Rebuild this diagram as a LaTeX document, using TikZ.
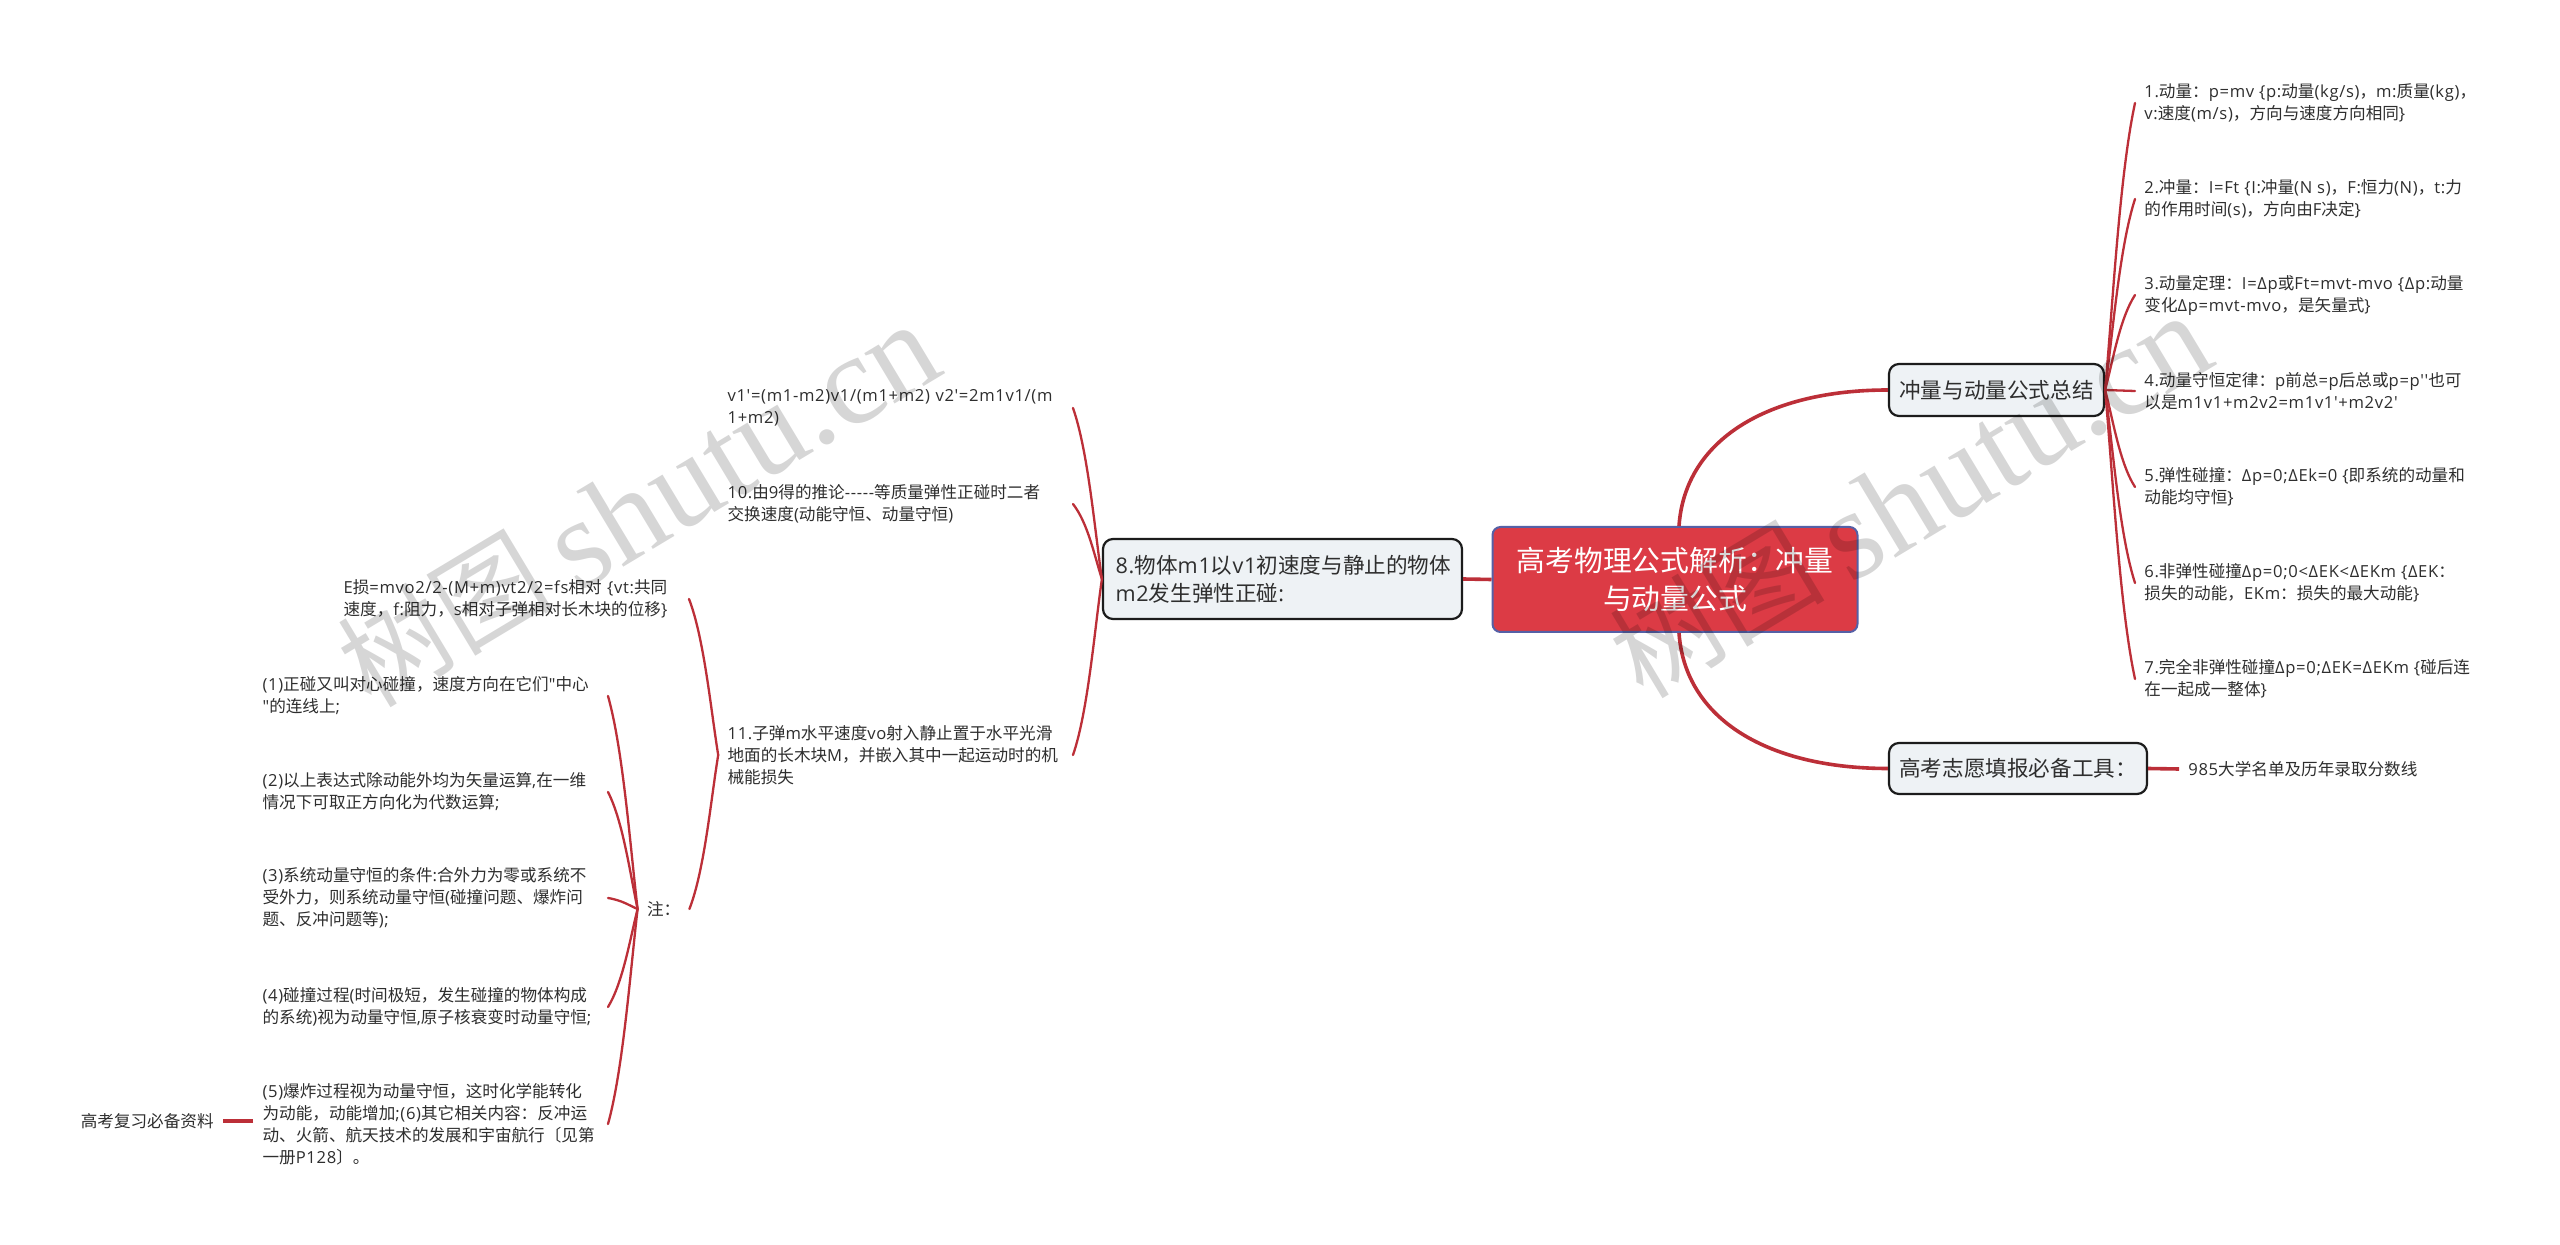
\documentclass[tikz,border=0pt]{standalone}
\usepackage{fontspec}
\newfontfamily\cjkfam{Noto Sans CJK SC}
\newfontfamily\latinfam[LetterSpace=4]{Open Sans}
\newfontfamily\wmlatin{Liberation Serif}
% switch to the CJK family on CJK characters, back to the Latin family elsewhere
\XeTeXinterchartokenstate=1
\newXeTeXintercharclass\cjkcls
\newcount\cjkidx
\newcommand{\markrange}[2]{\cjkidx=#1 \loop\XeTeXcharclass\cjkidx=\cjkcls\ifnum\cjkidx<#2 \advance\cjkidx by 1 \repeat}
\markrange{"3000}{"303F}
\markrange{"4E00}{"9FFF}
\markrange{"FF00}{"FFEF}
\XeTeXinterchartoks 0 \cjkcls = {\cjkfam}
\XeTeXinterchartoks 4095 \cjkcls = {\cjkfam}
\XeTeXinterchartoks \cjkcls 0 = {\latinfam}
\XeTeXinterchartoks \cjkcls 4095 = {\latinfam}
\definecolor{linkred}{HTML}{BC2F38}
\definecolor{rootred}{HTML}{DC3B45}
\definecolor{rootedge}{HTML}{5560A6}
\definecolor{boxfill}{HTML}{EEF2F5}
\definecolor{boxedge}{HTML}{1C1C1C}
\definecolor{txt}{HTML}{2E2E2E}
\tikzset{
  link/.style={draw=linkred,line width=1.15pt,line cap=round},
  biglink/.style={draw=linkred,line width=1.8pt},
  rootbox/.style={draw=rootedge,fill=rootred,line width=1pt,rounded corners=4pt,text=white,align=center,
    font=\latinfam\fontsize{14.4}{19}\selectfont,minimum width=182.5pt,minimum height=52.5pt,inner sep=0pt},
  topicbox/.style={draw=boxedge,fill=boxfill,line width=1.1pt,rounded corners=5pt,text=txt,
    font=\latinfam\fontsize{10.8}{14}\selectfont,inner sep=0pt,align=center},
  leaf/.style={text=txt,font=\latinfam\fontsize{8.3}{11}\selectfont,inner xsep=4.5pt,inner ysep=0pt,align=left},
  leafwide/.style={leaf,text width=168pt},
  watermark/.style={text=black,opacity=.16,font=\latinfam\fontsize{64}{64}\selectfont,rotate=31,anchor=base east,inner sep=0pt},
}
\newcommand{\fanlink}[4]{\draw[link] (#1) .. controls +({.25*#3},{.3*#4}) and +({-.5*#3},{-.25*#4}) .. (#2);}
\begin{document}
\begin{tikzpicture}[x=.5pt,y=-.5pt]
\useasboundingbox (0,0) rectangle (2560,1245);
\fill[white] (0,0) rectangle (2560,1245);

% nodes
\node[rootbox] (root) at (1675,579.5) {高考物理公式解析：冲量\\与动量公式};
\node[topicbox,minimum width=107.5pt,minimum height=26pt] (sum) at (1996.5,390) {冲量与动量公式总结};
\node[topicbox,minimum width=129pt,minimum height=25.5pt] (exam) at (2018,768.5) {高考志愿填报必备工具：};
\node[topicbox,minimum width=179.5pt,minimum height=40pt,text width=167pt,align=left,font=\latinfam\fontsize{10.8}{14}\selectfont] (eight) at (1282.5,579) {8.物体m1以v1初速度与静止的物体\\m2发生弹性正碰:};

\node[leaf,anchor=west] (c1) at (2135,103) {1.动量：p=mv \{p:动量(kg/s)，m:质量(kg)，\\v:速度(m/s)，方向与速度方向相同\}};
\node[leaf,anchor=west] (c2) at (2135,199) {2.冲量：I=Ft \{I:冲量(N s)，F:恒力(N)，t:力\\的作用时间(s)，方向由F决定\}};
\node[leaf,anchor=west] (c3) at (2135,295) {3.动量定理：I=Δp或Ft=mvt-mvo \{Δp:动量\\变化Δp=mvt-mvo，是矢量式\}};
\node[leaf,anchor=west] (c4) at (2135,391) {4.动量守恒定律：p前总=p后总或p=p''也可\\以是m1v1+m2v2=m1v1'+m2v2'};
\node[leaf,anchor=west] (c5) at (2135,487) {5.弹性碰撞：Δp=0;ΔEk=0 \{即系统的动量和\\动能均守恒\}};
\node[leaf,anchor=west] (c6) at (2135,583) {6.非弹性碰撞Δp=0;0<ΔEK<ΔEKm \{ΔEK：\\损失的动能，EKm：损失的最大动能\}};
\node[leaf,anchor=west] (c7) at (2135,679) {7.完全非弹性碰撞Δp=0;ΔEK=ΔEKm \{碰后连\\在一起成一整体\}};
\node[leaf,anchor=west] (univ) at (2179,769) {985大学名单及历年录取分数线};

\node[leafwide,anchor=east] (v) at (1073,408) {\mbox{v1'=(m1-m2)v1/(m1+m2) v2'=2m1v1/(m}\\1+m2)};
\node[leafwide,anchor=east] (ten) at (1073,504) {10.由9得的推论-----等质量弹性正碰时二者\\交换速度(动能守恒、动量守恒)};
\node[leafwide,anchor=east] (eleven) at (1073,755) {11.子弹m水平速度vo射入静止置于水平光滑\\地面的长木块M，并嵌入其中一起运动时的机\\械能损失};

\node[leafwide,anchor=east] (eloss) at (689,599) {\mbox{E损=mvo2/2-(M+m)vt2/2=fs相对 \{vt:共同}\\速度，f:阻力，s相对子弹相对长木块的位移\}};
\node[leaf,text width=16.5pt,anchor=center] (note) at (663.5,909) {注：};

\node[leafwide,anchor=east] (n1) at (608,696) {(1)正碰又叫对心碰撞，速度方向在它们"中心\\"的连线上;};
\node[leafwide,anchor=east] (n2) at (608,792) {(2)以上表达式除动能外均为矢量运算,在一维\\情况下可取正方向化为代数运算;};
\node[leafwide,anchor=east] (n3) at (608,898) {(3)系统动量守恒的条件:合外力为零或系统不\\受外力，则系统动量守恒(碰撞问题、爆炸问\\题、反冲问题等);};
\node[leafwide,anchor=east] (n4) at (608,1007) {(4)碰撞过程(时间极短，发生碰撞的物体构成\\的系统)视为动量守恒,原子核衰变时动量守恒;};
\node[leafwide,anchor=east] (n5) at (608,1124) {(5)爆炸过程视为动量守恒，这时化学能转化\\为动能，动能增加;(6)其它相关内容：反冲运\\动、火箭、航天技术的发展和宇宙航行〔见第\\一册P128〕。};
\node[leaf,anchor=east] (review) at (223,1121) {高考复习必备资料};

% connectors
\draw[biglink] ([xshift=2pt]root.north) .. controls +(6,-87) and +(-119,0) .. (sum.west);
\draw[biglink] ([xshift=2pt]root.south) .. controls +(6,87) and +(-119,0) .. (exam.west);
\draw[biglink] (root.west) -- (eight.east);
\draw[biglink] (exam.east) -- (univ.west);
\draw[biglink] (n5.west |- review.east) -- (review.east);
\fanlink{sum.east}{c1.west}{31}{-288}
\fanlink{sum.east}{c2.west}{31}{-192}
\fanlink{sum.east}{c3.west}{31}{-96}
\draw[link] (sum.east) -- (c4.west);
\fanlink{sum.east}{c5.west}{31}{96}
\fanlink{sum.east}{c6.west}{31}{192}
\fanlink{sum.east}{c7.west}{31}{288}
\fanlink{eight.west}{v.east}{-30}{-173}
\fanlink{eight.west}{ten.east}{-30}{-77}
\fanlink{eight.west}{eleven.east}{-30}{174}
\fanlink{eleven.west}{eloss.east}{-30}{-155}
\fanlink{eleven.west}{note.east}{-30}{154}
\fanlink{note.west}{n1.east}{-30}{-213}
\fanlink{note.west}{n2.east}{-30}{-117}
\fanlink{note.west}{n3.east}{-30}{-10}
\fanlink{note.west}{n4.east}{-30}{98}
\fanlink{note.west}{n5.east}{-30}{216}

% watermarks
\node[watermark] (wm1) at (948,372) {\raisebox{4pt}{\fontsize{54}{54}\selectfont 树图}\,{\wmlatin shutu.cn}};
\node[watermark] (wm2) at (2220,363) {\raisebox{4pt}{\fontsize{54}{54}\selectfont 树图}\,{\wmlatin shutu.cn}};
\end{tikzpicture}
\end{document}
